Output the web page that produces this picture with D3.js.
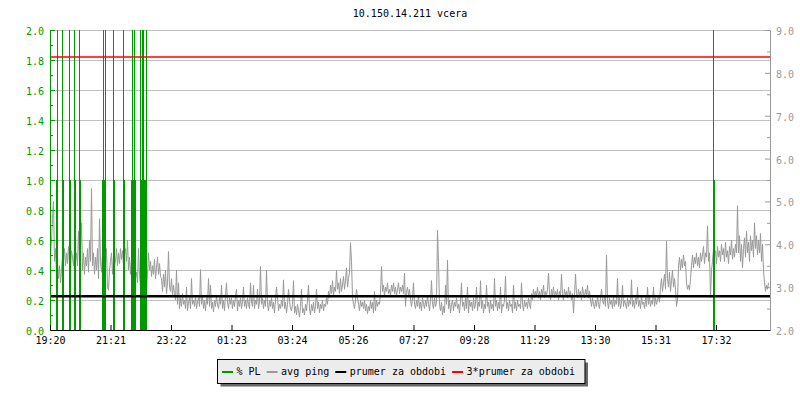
<!DOCTYPE html>
<html><head><meta charset="utf-8">
<script src="https://cdn.jsdelivr.net/npm/d3@7"></script>
<style>
body{margin:0;background:#fff}
svg{display:block}
text{font-family:"DejaVu Sans Mono","Liberation Mono",monospace;font-size:10px}
</style>
</head><body>
<svg id="c" width="800" height="400"></svg>
<script>
// ---------- data ----------
const chartTitle = "10.150.14.211 vcera";
const startTime = "2024-01-01 19:20";
const endTime = "2024-01-02 19:20";
const xTickLabels = ["19:20","21:21","23:22","01:23","03:24","05:26","07:27","09:28","11:29","13:30","15:31","17:32"];
const leftTicks = [0.0,0.2,0.4,0.6,0.8,1.0,1.2,1.4,1.6,1.8,2.0];
const leftMinorTicks = [0.1,0.3,0.5,0.7,0.9,1.1,1.3,1.5,1.7,1.9];
const rightTicks = [2,3,4,5,6,7,8,9];
const rightMinorTicks = [2.5,3.5,4.5,5.5,6.5,7.5,8.5];
const pingStepMinutes = 2;
const avgPing = [
 3.7,4.1,4.6,5.0,3.6,3.9,
 3.3,3.6,3.2,3.5,3.1,3.4,3.7,
 3.6,3.9,3.5,3.8,3.55,3.95,3.6,3.45,3.85,3.7,3.5,3.9,3.6,3.8,3.5,4.3,3.65,3.9,
 4.5,3.4,3.8,3.3,3.7,3.5,3.9,3.35,4.1,3.6,
 5.3,
 3.5,3.8,3.3,3.7,3.4,3.9,3.2,4.6,3.6,3.35,3.8,
 3.3,3.7,3.5,3.9,3.0,2.93,3.4,3.6,3.8,3.3,3.7,3.5,
 3.6,3.9,3.5,3.8,3.55,3.9,3.65,3.85,3.5,3.75,3.9,3.6,4.1,
 3.4,3.7,3.3,3.6,3.2,3.5,3.7,
 3.2,3.35,3.1,3.9,3.3,3.0,3.25,3.1,3.35,3.05,3.2,2.95,3.3,
 3.8,3.4,3.6,3.25,3.5,3.3,3.65,3.2,3.45,3.7,3.3,3.55,3.25,
 3.2,2.9,3.3,3.0,3.4,2.85,3.1,3.83,3.0,2.9,3.2,2.8,3.05,2.85,
 2.7,3.4,2.6,3.1,2.5,2.75,2.55,2.85,2.6,2.7,2.5,3.0,2.45,2.65,2.75,2.5,3.2,2.6,2.7,2.55,
 2.8,2.5,2.65,2.75,2.55,3.41,2.6,2.8,2.5,2.7,2.45,2.75,2.6,3.2,2.55,3.05,2.5,2.65,2.42,2.7,
 2.55,2.8,2.6,2.5,2.75,2.6,3.05,2.5,2.7,2.45,2.8,3.1,2.65,2.5,2.75,
 2.6,2.75,2.5,2.7,2.55,2.8,2.95,2.45,2.7,2.55,2.75,2.5,2.65,3.0,2.55,2.7,2.5,2.75,2.6,2.5,
 3.1,2.65,2.55,3.05,2.5,2.7,2.6,2.95,2.5,2.65,3.48,2.6,2.75,2.5,2.7,2.55,3.4,2.6,2.45,2.7,
 2.55,2.75,2.5,2.65,2.4,2.7,3.0,2.75,2.45,2.6,2.5,2.7,2.55,3.17,2.5,2.65,2.4,2.6,2.95,2.7,2.5,
 2.45,2.6,3.15,2.4,2.55,2.35,2.6,2.45,2.3,2.55,2.95,2.4,2.5,2.35,2.6,2.45,2.7,3.05,2.5,2.35,
 2.6,2.45,2.65,2.4,2.55,2.95,2.5,2.65,2.4,2.6,2.5,2.7,2.45,2.6,2.55,2.75,2.6,
 2.9,2.75,3.05,2.85,3.15,2.8,3.0,2.9,3.4,2.95,3.1,2.85,3.2,2.9,3.05,3.25,2.95,3.15,3.45,3.0,3.2,3.35,4.04,3.6,
 2.75,2.6,2.5,2.7,2.95,2.75,2.6,2.45,2.7,2.55,2.65,2.5,2.7,2.45,2.6,2.38,2.55,2.45,2.7,2.5,2.65,2.4,2.9,2.45,2.7,2.55,2.65,2.6,
 2.85,3.48,2.9,3.05,2.8,3.0,2.9,3.1,2.85,2.95,2.8,3.05,2.9,3.1,2.85,3.0,2.8,2.95,3.1,2.85,3.0,2.9,3.05,2.85,3.33,2.55,2.9,3.0,2.8,2.95,
 2.7,2.55,2.75,3.1,2.6,2.5,2.7,2.55,2.8,2.5,2.65,2.45,2.75,2.6,2.5,2.7,2.55,2.8,2.6,2.45,2.7,3.15,2.6,2.5,2.75,2.55,2.65,
 4.33,3.6,2.6,2.45,2.65,2.35,2.55,2.4,3.05,2.6,3.63,2.5,2.7,2.4,
 2.6,2.7,2.45,2.65,2.55,2.75,2.5,2.6,2.4,2.7,3.1,2.55,2.65,2.45,2.75,2.5,3.0,2.4,2.7,2.55,
 2.65,2.45,2.75,2.5,2.6,3.0,2.45,2.65,2.55,3.15,2.5,2.7,2.4,2.6,2.5,3.05,2.55,2.65,2.4,2.7,
 2.5,2.6,2.45,3.2,2.55,2.7,2.45,2.65,2.5,3.0,2.4,2.6,2.55,2.7,3.25,2.5,2.65,2.45,2.7,2.55,
 2.6,2.4,3.05,2.5,2.65,2.45,2.7,2.55,2.6,2.5,3.1,2.6,2.45,2.7,2.55,2.65,2.5,2.75,2.6,2.5,
 2.85,2.7,2.95,2.75,2.9,2.8,3.0,2.75,2.9,2.7,2.95,2.8,3.05,2.75,2.9,2.8,2.95,3.33,2.85,2.7,
 2.95,2.8,3.0,2.75,2.9,2.8,2.95,2.7,2.9,2.8,3.3,2.85,2.7,2.95,2.8,2.9,2.75,3.0,2.8,2.9,
 2.7,2.85,2.4,2.8,3.3,2.85,2.75,2.95,2.8,2.9,2.7,3.0,2.85,2.75,2.95,2.8,3.05,2.75,2.9,
 2.7,2.55,2.75,2.6,2.5,2.7,2.55,2.8,2.6,2.5,2.75,2.95,2.7,2.6,2.8,2.55,3.75,2.65,2.5,2.75,
 2.6,2.7,2.5,2.8,2.55,2.7,2.6,3.2,2.55,2.75,2.5,2.65,3.05,2.55,2.7,2.6,2.5,2.75,2.55,2.7,
 2.6,3.17,2.55,2.7,2.5,2.75,2.6,3.0,2.55,2.7,2.5,2.8,2.6,2.65,2.5,2.75,2.55,3.0,2.6,2.8,
 2.55,2.7,2.6,3.0,2.55,2.75,2.6,2.7,2.8,2.65,
 3.0,3.2,2.9,3.1,3.3,2.95,4.08,3.2,3.0,3.35,2.9,3.15,3.4,3.0,3.2,2.95,
 2.55,2.7,
 3.5,3.7,3.4,3.65,3.45,3.75,3.5,3.6,
 3.1,2.95,3.05,2.93,3.2,
 3.5,3.75,3.45,3.7,3.55,3.8,3.5,3.7,3.45,3.8,3.6,3.75,3.95,3.55,3.8,
 3.7,4.43,3.6,3.8,2.75,3.4,
 3.6,3.9,3.7,3.85,3.55,3.95,3.7,3.85,3.6,4.0,3.75,3.9,3.6,4.05,3.7,3.85,3.55,3.95,3.75,4.1,3.65,3.9,3.7,4.0,3.8,
 4.9,
 3.8,4.2,3.6,4.0,3.45,3.9,4.15,3.7,4.3,3.8,4.05,3.6,4.2,3.85,4.1,3.7,4.5,3.9,4.2,3.75,4.1,3.8,4.25,3.6,4.0,
 3.4,3.1,2.9,3.05,2.95,3.1
];
const plMinutes = [12,14,24,26,38,40,48,50,58,60,104,106,108,110,126,128,146,148,162,164,166,168,170,180,182,184,186,188,190,192,1326,1328];
const plValues  = [1, 4, 4, 1, 4, 1, 4, 1, 4, 1, 1, 4, 1, 4, 4, 1, 4, 1, 1, 4, 1, 4, 1, 4, 1, 4, 4, 1, 1, 4, 4, 1];
const meanPing = 2.79;
const meanFactor = 3;
const legendLabels = ["% PL","avg ping","prumer za obdobi","3*prumer za obdobi"];
const legendColors = ["#009900","#999999","#000000","#ff0000"];

// ---------- layout ----------
const svg = d3.select("#c");
const L = 50, R = 770, T = 30, B = 330;
const parse = d3.timeParse("%Y-%m-%d %H:%M");
const t0 = parse(startTime), t1 = parse(endTime);
const x = d3.scaleTime().domain([t0, t1]).range([L, R]);
const yL = d3.scaleLinear().domain([0, 2]).range([B, T]);
const yR = d3.scaleLinear().domain([2, 9]).range([B, T]);
const addMin = m => new Date(t0.getTime() + m * 60000);

const tickTimes = xTickLabels.map(s => {
  const [h, m] = s.split(":").map(Number);
  let d = new Date(t0); d.setHours(h, m, 0, 0);
  if (d < t0) d = new Date(d.getTime() + 86400000);
  return d;
});

svg.append("defs").append("clipPath").attr("id", "plot")
  .append("rect").attr("x", L).attr("y", T).attr("width", R - L).attr("height", B - T);

svg.append("text").attr("x", (L + R) / 2).attr("y", 17).attr("text-anchor", "middle")
  .attr("fill", "#000").text(chartTitle);

// gridlines
svg.append("g").selectAll("line").data(leftTicks.filter(d => d > 0)).join("line")
  .attr("x1", L).attr("x2", R)
  .attr("y1", d => Math.round(yL(d)) + 0.5).attr("y2", d => Math.round(yL(d)) + 0.5)
  .attr("stroke", "#c0c0c0").attr("stroke-width", 1);

const plot = svg.append("g").attr("clip-path", "url(#plot)");

// avg ping line
plot.append("path")
  .datum(avgPing.map((v, i) => [addMin(i * pingStepMinutes), v]))
  .attr("fill", "none").attr("stroke", "#999999").attr("stroke-width", 1)
  .attr("d", d3.line().x(d => x(d[0]) + 0.5).y(d => yR(d[1])));

// PL bars
plot.append("g").selectAll("rect").data(plMinutes.map((m, i) => [addMin(m), plValues[i], addMin(m + 2)])).join("rect")
  .attr("x", d => x(d[0])).attr("width", d => x(d[2]) - x(d[0]))
  .attr("y", d => yL(d[1])).attr("height", d => yL(0) - yL(d[1]))
  .attr("fill", "#009900");

// mean lines
plot.append("line").attr("x1", L).attr("x2", R)
  .attr("y1", yR(meanPing)).attr("y2", yR(meanPing))
  .attr("stroke", "#000").attr("stroke-width", 2.5);
plot.append("line").attr("x1", L).attr("x2", R)
  .attr("y1", yR(meanPing * meanFactor)).attr("y2", yR(meanPing * meanFactor))
  .attr("stroke", "#ff0000").attr("stroke-width", 1.3);

// left axis
const gL = svg.append("g").attr("transform", `translate(${L},0)`);
gL.call(d3.axisLeft(yL).tickValues(leftTicks).tickSizeInner(-5).tickSizeOuter(0).tickPadding(6)
  .tickFormat(d3.format(".1f")));
gL.append("g").call(d3.axisLeft(yL).tickValues(leftMinorTicks).tickSizeInner(-3).tickSizeOuter(0).tickFormat(""))
  .select(".domain").remove();
gL.selectAll("path,line").attr("stroke", "#009900");
gL.selectAll("text").attr("fill", "#009900").attr("dy", "0.45em")
  .style("font-family", "DejaVu Sans Mono, monospace").style("font-size", "10px");

// right axis
const gR = svg.append("g").attr("transform", `translate(${R},0)`);
gR.call(d3.axisRight(yR).tickValues(rightTicks).tickSizeInner(-5).tickSizeOuter(0).tickPadding(6)
  .tickFormat(d3.format(".1f")));
gR.append("g").call(d3.axisRight(yR).tickValues(rightMinorTicks).tickSizeInner(-3).tickSizeOuter(0).tickFormat(""))
  .select(".domain").remove();
gR.selectAll("path,line").attr("stroke", "#999999");
gR.selectAll("text").attr("fill", "#999999").attr("dy", "0.45em")
  .style("font-family", "DejaVu Sans Mono, monospace").style("font-size", "10px");

// bottom axis
const gB = svg.append("g").attr("transform", `translate(0,${B})`);
gB.call(d3.axisBottom(x).tickValues(tickTimes).tickSizeInner(-5).tickSizeOuter(0).tickPadding(7)
  .tickFormat((d, i) => xTickLabels[i]));
gB.selectAll("path,line").attr("stroke", "#000");
gB.selectAll("text").attr("fill", "#000")
  .style("font-family", "DejaVu Sans Mono, monospace").style("font-size", "10px");

// legend
const lg = svg.append("g");
const shadow = lg.append("rect").attr("fill", "#666666");
const box = lg.append("rect").attr("fill", "#ececec").attr("stroke", "#000").attr("stroke-width", 1);
let cx = 222;
const items = lg.append("g");
legendLabels.forEach((lab, i) => {
  items.append("line").attr("x1", cx).attr("x2", cx + 11).attr("y1", 372).attr("y2", 372)
    .attr("stroke", legendColors[i]).attr("stroke-width", 2);
  const t = items.append("text").attr("x", cx + 14.5).attr("y", 375).attr("fill", "#000").text(lab);
  cx += 14.5 + t.node().getComputedTextLength() + 6;
});
const bx = 217.5, by = 359.5, bw = (cx - 6 + 10) - 217.5, bh = 24;
shadow.attr("x", bx + 3).attr("y", by + 3).attr("width", bw).attr("height", bh);
box.attr("x", bx).attr("y", by).attr("width", bw).attr("height", bh);
</script>
</body></html>
